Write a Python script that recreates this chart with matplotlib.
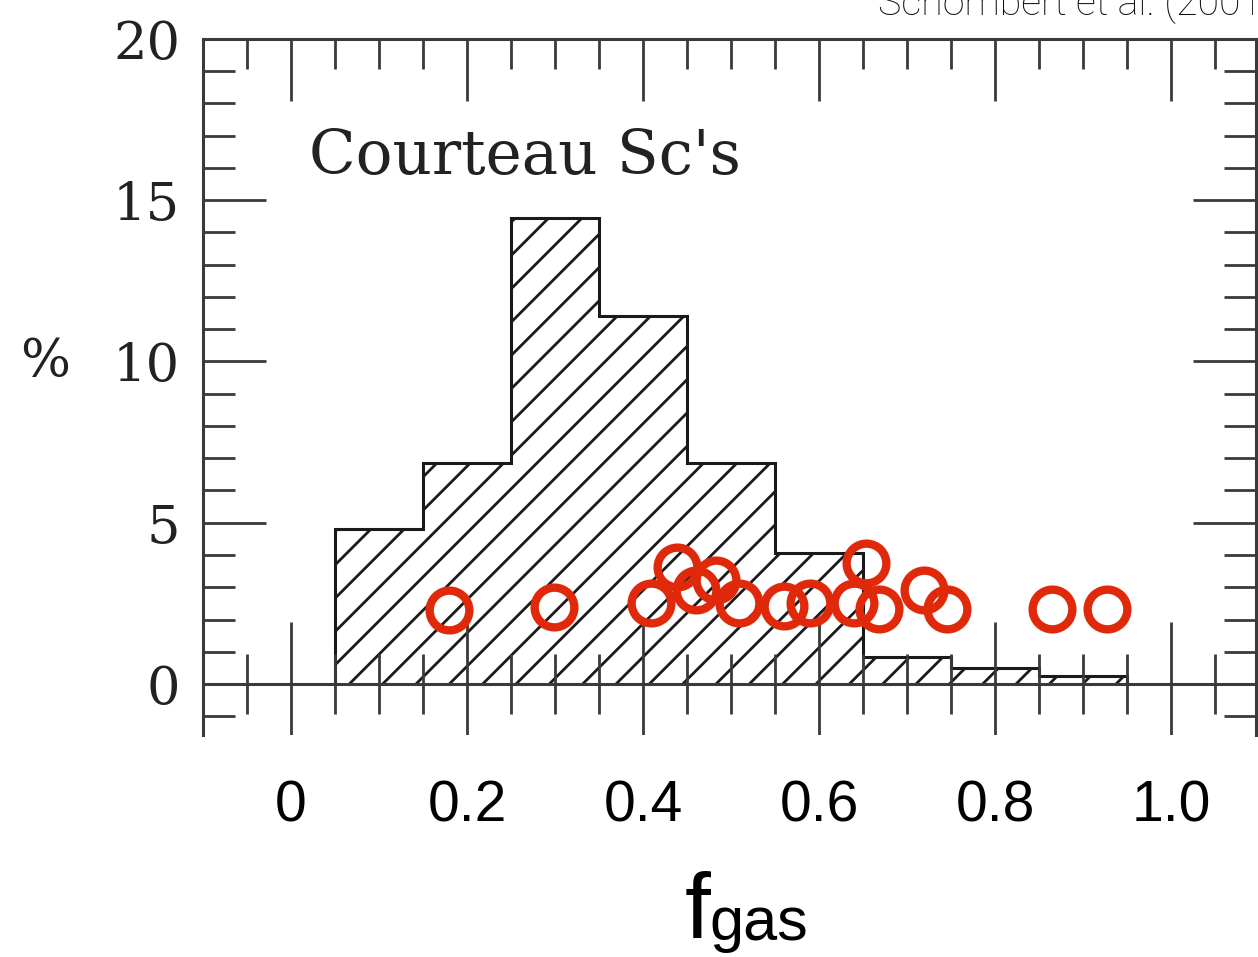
import matplotlib
matplotlib.use("Agg")
import matplotlib.pyplot as plt
from matplotlib import font_manager
from matplotlib.ticker import MultipleLocator, FixedLocator
import numpy as np

# histogram of gas fractions (Courteau Sc's)
bin_edges = [0.05, 0.15, 0.25, 0.35, 0.45, 0.55, 0.65, 0.75, 0.85, 0.95]
percent = [4.8, 6.85, 14.45, 11.4, 6.85, 4.05, 0.83, 0.5, 0.26]

# overplotted galaxies (red open circles)
fgas_x = [0.180, 0.299, 0.409, 0.439, 0.460, 0.483, 0.509, 0.560,
          0.590, 0.640, 0.653, 0.668, 0.719, 0.745, 0.865, 0.927]
fgas_y = [2.30, 2.40, 2.51, 3.63, 2.91, 3.22, 2.51, 2.42,
          2.51, 2.51, 3.75, 2.32, 2.91, 2.32, 2.32, 2.32]

xtick_vals = [0, 0.2, 0.4, 0.6, 0.8, 1.0]
xtick_labels = ['0', '0.2', '0.4', '0.6', '0.8', '1.0']
ytick_vals = [0, 5, 10, 15, 20]


def pick_font(names):
    have = set(f.name for f in font_manager.fontManager.ttflist)
    for n in names:
        if n in have:
            return n
    return 'DejaVu Sans'


serif = pick_font(['DejaVu Serif', 'Liberation Serif'])
narrow = pick_font(['Liberation Sans Narrow', 'Liberation Sans'])
sans = pick_font(['Liberation Sans', 'DejaVu Sans'])
light = pick_font(['Roboto', 'Open Sans', 'Lato', 'Liberation Sans'])

plt.rcParams['hatch.linewidth'] = 1.0
ink = '#3a3a3a'
red = '#e0280a'

fig = plt.figure(figsize=(6.29, 4.785), dpi=200)
ax = fig.add_axes([0.1614, 0.2320, 0.8370, 0.7273])
ax.set_xlim(-0.1, 1.0966)
ax.set_ylim(-1.58, 20)

# hatched histogram
ax.stairs(percent, bin_edges, baseline=0, fill=True, hatch='//',
          facecolor='white', edgecolor='#1a1a1a', linewidth=1.1, zorder=2)

# zero line with its cross ticks
ax.axhline(0, color=ink, lw=1.1, zorder=3)
zero_minor = [v for v in np.round(np.arange(-0.05, 1.06, 0.05), 2)
              if not np.isclose(v % 0.2, 0) and not np.isclose(v % 0.2, 0.2)]
ax.vlines(zero_minor, -0.93, 0.93, color=ink, lw=1.0, zorder=3)
ax.vlines(xtick_vals, -1.9, 1.92, color=ink, lw=1.0, zorder=3)

# red circles
ax.plot(fgas_x, fgas_y, 'o', ms=14.3, mfc='none', mec=red, mew=3.0, zorder=5)

# frame
for s in ['left', 'right', 'top']:
    ax.spines[s].set_color(ink)
    ax.spines[s].set_linewidth(1.1)
ax.spines['bottom'].set_visible(False)

ax.xaxis.set_ticks_position('top')
ax.xaxis.set_major_locator(FixedLocator(xtick_vals))
ax.xaxis.set_minor_locator(MultipleLocator(0.05))
ax.tick_params(axis='x', which='major', direction='in', length=22.3, width=1.0,
               color=ink, labeltop=False, labelbottom=False)
ax.tick_params(axis='x', which='minor', direction='in', length=10.8, width=1.0,
               color=ink)

ax.set_yticks(ytick_vals)
ax.yaxis.set_minor_locator(MultipleLocator(1))
ax.tick_params(axis='y', which='major', direction='in', length=22.7, width=1.0,
               color=ink, left=True, right=True, pad=8.3, labelsize=19)
ax.tick_params(axis='y', which='minor', direction='in', length=11.5, width=1.0,
               color=ink, left=True, right=True)
for lab in ax.get_yticklabels():
    lab.set_family(serif)
    lab.set_color('#222222')

ax.set_ylabel('%', rotation=0, fontsize=19, family=serif, color='#222222',
              va='center', ha='center')
ax.yaxis.set_label_coords(-0.150, 0.536)

ax.text(0.02, 15.8, "Courteau Sc's", family=serif, fontsize=22,
        color='#222222', va='baseline', ha='left')

# overlaid x tick labels
sec = ax.secondary_xaxis('bottom')
sec.set_xticks(xtick_vals, xtick_labels)
sec.tick_params(length=0, pad=16, labelsize=20.5)
sec.spines['bottom'].set_visible(False)
for lab in sec.get_xticklabels():
    lab.set_family(narrow)
    lab.set_color('black')

fig.text(685 / 1258, 1 - 938 / 957, 'f', family=sans, fontsize=33.5,
         va='baseline', ha='left')
fig.text(709 / 1258, 1 - 940 / 957, 'gas', family=sans, fontsize=22,
         va='baseline', ha='left')

fig.text(878 / 1258, 1 - 15 / 957, 'Schombert et al. (2001)', family=light,
         fontweight='light', fontsize=14.2, va='baseline', ha='left',
         color='#111111')

fig.savefig('out.png', dpi=200)
